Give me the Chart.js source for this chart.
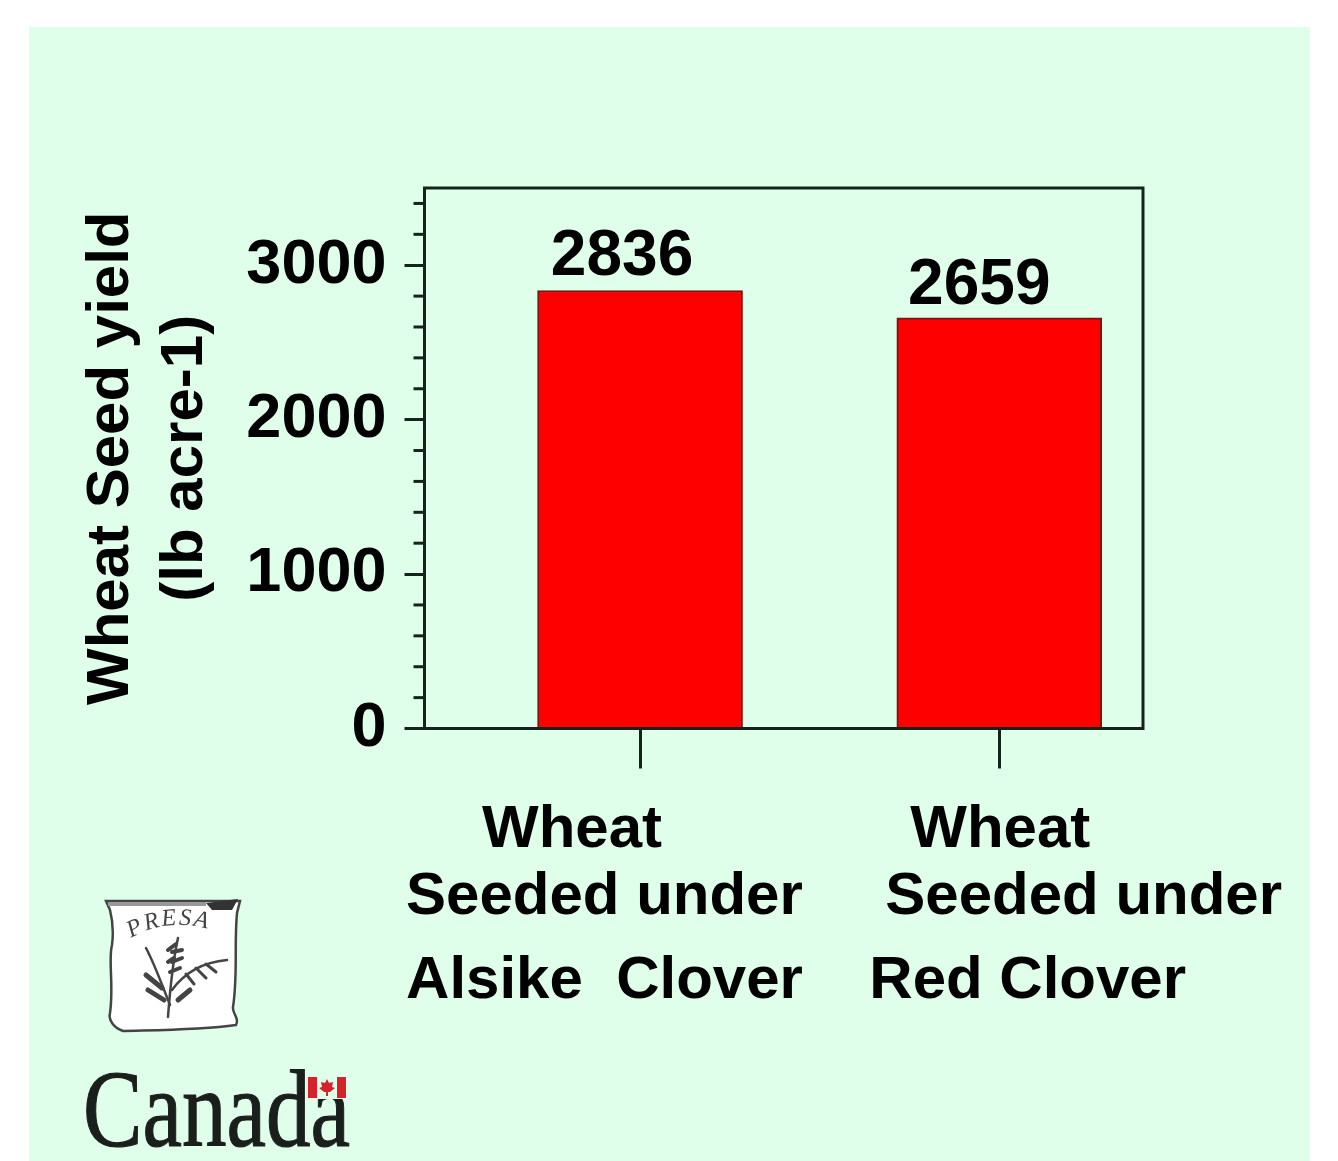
<!DOCTYPE html>
<html>
<head>
<meta charset="utf-8">
<title>Wheat Seed yield</title>
<script src="https://cdn.jsdelivr.net/npm/chart.js@4"></script>
<style>
  html, body { margin: 0; padding: 0; background: #fff; overflow: hidden; }
  #panel { position: absolute; left: 29px; top: 27px; width: 1281px; height: 1134px; background: #e0ffea; }
  #js_yield_chart { position: absolute; left: 0; top: 0; }
  #logos { position: absolute; left: 0; top: 0; }
</style>
</head>
<body>
<div id="panel"></div>
<canvas id="js_yield_chart" width="1338" height="1161"></canvas>

<svg id="logos" width="1338" height="1161" xmlns="http://www.w3.org/2000/svg">
  <!-- PRESA badge -->
  <path d="M106 901 L240 901 L237 913 C234 945 238 975 233 1007 C232 1014 240 1018 236 1025 C200 1030 160 1030 123 1031 C114 1028 108 1020 110 1013 C114 985 108 960 112 945 C114 930 112 918 110 910 Z"
        fill="#fff" stroke="#444" stroke-width="2.5"/>
  <path d="M108 904 L206 904" stroke="#999" stroke-width="4"/>
  <path d="M206 903 L238 899 L232 910 L212 910 Z" fill="#333"/>
  <path id="presaArc" d="M131 938 Q172 914 224 934" fill="none"/>
  <text font-family="Liberation Serif" font-style="italic" font-size="24" letter-spacing="2" fill="#444"><textPath href="#presaArc">PRESA</textPath></text>
  <g fill="none" stroke="#444" stroke-linecap="round">
    <path d="M168 1017 C170 990 172 965 178 938" stroke-width="2.5"/>
    <path d="M172 952 L182 950 M172 962 L182 958 M170 972 L180 968 M168 950 L176 944 M168 962 L174 958" stroke-width="4"/>
    <path d="M170 1005 C162 985 155 965 146 948" stroke-width="2.5"/>
    <path d="M172 990 C185 972 205 962 227 960" stroke-width="2.5"/>
    <path d="M186 974 L194 984 M196 968 L206 978 M206 964 L216 972" stroke-width="3"/>
    <path d="M146 975 L162 988 M148 990 L164 1000 M190 990 L178 1000" stroke-width="5"/>
  </g>
  <!-- Canada wordmark -->
  <text x="83" y="1146" font-family="Liberation Serif" font-size="110" fill="#1b1f1c" stroke="#1b1f1c" stroke-width="1.2" textLength="267" lengthAdjust="spacingAndGlyphs">Canada</text>
  <rect x="307" y="1076" width="40" height="23" fill="#e0ffea"/>
  <rect x="308" y="1077" width="9" height="21" fill="#d4232b"/>
  <rect x="337" y="1077" width="9" height="21" fill="#d4232b"/>
  <path d="M327 1079 L329 1083 L333 1082 L332 1087 L335 1088 L330 1092 L328 1092 L328 1096 L326 1096 L326 1092 L324 1092 L319 1088 L322 1087 L321 1082 L325 1083 Z" fill="#d4232b"/>
</svg>

<script>
const categories = ["Alsike Clover", "Red Clover"]
const xPositions = [0, 1]
const seedYield = [2836, 2659]
const yMajorTicks = [0, 1000, 2000, 3000]
const yMinorTicks = [200, 400, 600, 800, 1200, 1400, 1600, 1800, 2200, 2400, 2600, 2800, 3200, 3400]
const xLabelLines = [
  ["Wheat", "Seeded under", "Alsike  Clover"],
  ["Wheat", "Seeded under", "Red Clover"]
]
const yTitleLines = ["Wheat Seed yield", "(lb acre-1)"]

const inkColor = "#14241c"

// top/right of the box, minor y ticks and the labels that don't line up with their tick
const extras = {
  id: "extras",
  afterDraw(chart) {
    const ctx = chart.ctx
    const area = chart.chartArea
    const x = chart.scales.x
    const y = chart.scales.y
    ctx.save()

    ctx.strokeStyle = inkColor
    ctx.lineWidth = 3
    ctx.beginPath()
    ctx.moveTo(area.left, area.bottom)
    ctx.lineTo(area.left, area.top)
    ctx.lineTo(area.right, area.top)
    ctx.lineTo(area.right, area.bottom)
    ctx.lineTo(area.left, area.bottom)
    ctx.stroke()

    yMinorTicks.forEach(v => {
      const py = y.getPixelForValue(v)
      ctx.beginPath()
      ctx.moveTo(area.left - 11, py)
      ctx.lineTo(area.left, py)
      ctx.stroke()
    })

    ctx.fillStyle = "#000"
    ctx.font = "bold 60px 'Liberation Sans'"
    ctx.textAlign = "left"
    ctx.textBaseline = "alphabetic"
    const lineOffsets = [[-158, -234, -234], [-89, -114, -130]]
    const baselines = [847, 914, 998]
    xLabelLines.forEach((lines, i) => {
      const px = x.getPixelForValue(xPositions[i])
      lines.forEach((line, j) => {
        ctx.fillText(line, px + lineOffsets[i][j], baselines[j])
      })
    })

    ctx.font = "bold 64px 'Liberation Sans'"
    ctx.textAlign = "center"
    const valueShift = [[-18, -16], [-20, -14]]
    seedYield.forEach((v, i) => {
      const px = x.getPixelForValue(xPositions[i])
      ctx.fillText(String(v), px + valueShift[i][0], y.getPixelForValue(v) + valueShift[i][1])
    })
    ctx.restore()
  }
}

function yieldChart() {
  const data = {
    labels: categories,
    datasets: [
      {
        label: "Wheat Seed yield",
        data: xPositions.map((p, i) => ({ x: p, y: seedYield[i] })),
        backgroundColor: "#ff0000",
        borderColor: "#7a1410",
        borderWidth: 2,
        barThickness: 205,
      }
    ]
  }

  const options = {
    responsive: false,
    animation: false,
    layout: { padding: { left: 0, top: 188, right: 195, bottom: 0 } },
    plugins: { legend: { display: false }, tooltip: { enabled: false } },
    scales: {
      x: {
        type: "linear",
        offset: false,
        min: -0.6,
        max: 1.4,
        afterBuildTicks: s => { s.ticks = xPositions.map(v => ({ value: v })) },
        afterFit: s => { s.height = 1161 - 728.5 },
        grid: { offset: false, drawOnChartArea: false, tickLength: 40, tickWidth: 3, tickColor: inkColor },
        border: { color: inkColor, width: 3 },
        ticks: { callback: () => "", font: { size: 1 } },
      },
      y: {
        min: 0,
        max: 3500,
        afterBuildTicks: s => { s.ticks = yMajorTicks.map(v => ({ value: v })) },
        afterFit: s => { s.width = 424.5 },
        grid: { drawOnChartArea: false, tickLength: 20, tickWidth: 3, tickColor: inkColor },
        border: { color: inkColor, width: 3 },
        ticks: {
          color: "#000",
          padding: 18,
          callback: v => String(v),
          font: { family: "Liberation Sans", size: 63, weight: "bold" },
        },
        title: {
          display: true,
          text: yTitleLines,
          color: "#000",
          font: { family: "Liberation Sans", size: 60, weight: "bold", lineHeight: 1.24 },
          padding: { top: 74, bottom: 0 },
        },
      }
    },
  }

  const ctx = document.getElementById("js_yield_chart").getContext("2d")
  return new Chart(ctx, { type: "bar", data, options, plugins: [extras] })
}

yieldChart()
</script>
</body>
</html>
